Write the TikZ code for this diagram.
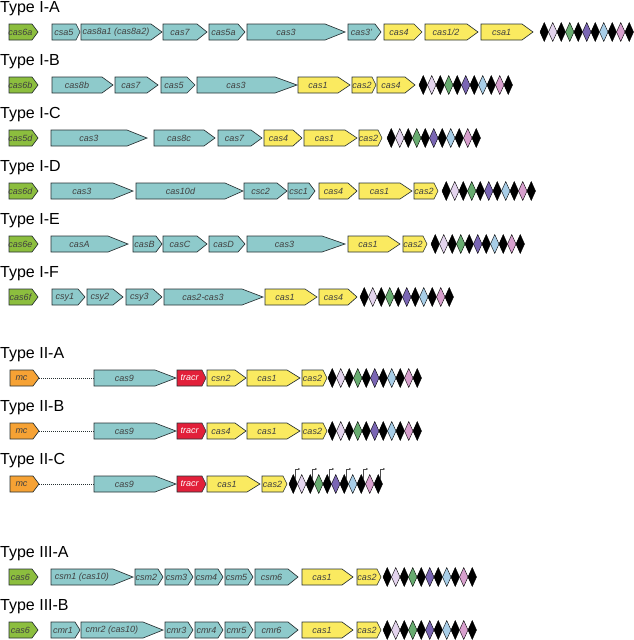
\documentclass[tikz,border=0pt]{standalone}
\usepackage{fontspec}
\setmainfont{Liberation Sans}
\usepackage{tikz}
\usetikzlibrary{arrows.meta}
\usepackage{xcolor}
\definecolor{casteal}{RGB}{142,202,203}
\definecolor{casyellow}{RGB}{250,234,96}
\definecolor{casgreen}{RGB}{140,190,62}
\definecolor{mcorange}{RGB}{246,162,52}
\definecolor{tracrred}{RGB}{226,32,58}
\definecolor{casline}{RGB}{38,48,50}
\definecolor{spacerlav}{RGB}{228,212,238}
\definecolor{spacergreen}{RGB}{104,172,112}
\definecolor{spacerpurple}{RGB}{122,102,180}
\definecolor{spacerblue}{RGB}{168,206,232}
\definecolor{spacerpink}{RGB}{216,160,206}

% gene arrow: name, left x, right x, tip length, fill, label (row at \rowy)
\newcommand{\gene}[6]{%
  \draw[genebox,fill=#5] (#2,\rowy-8) -- (#3-#4,\rowy-8) -- (#3,\rowy)
    -- (#3-#4,\rowy+8) -- (#2,\rowy+8) -- cycle;
  \node[genelabel,minimum width={#3-#4-#2}] (#1) at ({(#2+#3-#4)/2},\rowy) {#6};
  \coordinate (#1tip) at (#3,\rowy);
}
% CRISPR array: repeats and spacers
\newcommand{\spacers}[1]{%
  \foreach \col [count=\i from 0] in {black,spacerlav,black,spacergreen,black,
      spacerpurple,black,spacerblue,black,spacerpink,black}
    \draw[spacer,fill=\col] (#1+\i*8.5,\rowy) -- ++(4.25,-9.5) -- ++(4.25,9.5)
      -- ++(-4.25,9.5) -- cycle;
}
\newcommand{\promoters}[1]{%
  \foreach \k in {0,2,...,10}
    \draw[promoter] (#1+\k*8.5+6,\rowy-5) -- ++(0,-10) -- ++(5,0);
}

\begin{document}
\begin{tikzpicture}[x=1pt,y=-1pt,
  genebox/.style={draw=casline,line width=0.65pt},
  genelabel/.style={inner sep=0pt,minimum height=16pt,
    font=\fontsize{9}{9}\selectfont\itshape,text=black!75},
  typelabel/.style={anchor=base west,inner sep=0pt,
    font=\fontsize{16}{16}\selectfont},
  spacer/.style={draw=black,line width=0.4pt},
  dotline/.style={draw=casline,line width=0.9pt,dash pattern=on 1pt off 1pt},
  promoter/.style={draw=black!70,line width=0.5pt,
    -{Stealth[length=2pt,width=2.2pt]}}]
  \useasboundingbox (0,0) rectangle (634,640);

  % Type I-A
  \def\rowy{32}
  \node[typelabel] (typeIA) at (0,\rowy-20) {Type I-A};
  \gene{IAcas6a}{9}{38}{6}{casgreen}{cas6a}
  \gene{IAcsa5}{52}{80}{4}{casteal}{csa5}
  \gene{IAcas8a}{81}{162}{11}{casteal}{cas8a1 (cas8a2)}
  \gene{IAcas7}{163}{207}{10}{casteal}{cas7}
  \gene{IAcas5a}{209}{245}{7}{casteal}{cas5a}
  \gene{IAcas3}{247}{345}{20}{casteal}{cas3}
  \gene{IAcas3p}{348}{381}{6}{casteal}{cas3'}
  \gene{IAcas4}{384}{422}{8}{casyellow}{cas4}
  \gene{IAcas12}{425}{478}{11}{casyellow}{cas1/2}
  \gene{IAcsa1}{481}{533}{11}{casyellow}{csa1}
  \spacers{540}

  % Type I-B
  \def\rowy{85}
  \node[typelabel] (typeIB) at (0,\rowy-20) {Type I-B};
  \gene{IBcas6b}{9}{38}{6}{casgreen}{cas6b}
  \gene{IBcas8b}{52}{113}{11}{casteal}{cas8b}
  \gene{IBcas7}{115}{158}{11}{casteal}{cas7}
  \gene{IBcas5}{161}{195}{8}{casteal}{cas5}
  \gene{IBcas3}{197}{297}{22}{casteal}{cas3}
  \gene{IBcas1}{298}{350}{12}{casyellow}{cas1}
  \gene{IBcas2}{352}{376}{4}{casyellow}{cas2}
  \gene{IBcas4}{377}{415}{10}{casyellow}{cas4}
  \spacers{419}

  % Type I-C
  \def\rowy{138}
  \node[typelabel] (typeIC) at (0,\rowy-20) {Type I-C};
  \gene{ICcas5d}{9}{38}{6}{casgreen}{cas5d}
  \gene{ICcas3}{51}{147}{20}{casteal}{cas3}
  \gene{ICcas8c}{154}{215}{11}{casteal}{cas8c}
  \gene{ICcas7}{218}{262}{11}{casteal}{cas7}
  \gene{ICcas4}{264}{302}{9}{casyellow}{cas4}
  \gene{ICcas1}{304}{357}{12}{casyellow}{cas1}
  \gene{ICcas2}{359}{382}{4}{casyellow}{cas2}
  \spacers{387}

  % Type I-D
  \def\rowy{191}
  \node[typelabel] (typeID) at (0,\rowy-20) {Type I-D};
  \gene{IDcas6d}{9}{38}{6}{casgreen}{cas6d}
  \gene{IDcas3}{51}{133}{20}{casteal}{cas3}
  \gene{IDcas10d}{136}{243}{18}{casteal}{cas10d}
  \gene{IDcsc2}{244}{287}{10}{casteal}{csc2}
  \gene{IDcsc1}{288}{315}{6}{casteal}{csc1}
  \gene{IDcas4}{319}{357}{9}{casyellow}{cas4}
  \gene{IDcas1}{359}{412}{12}{casyellow}{cas1}
  \gene{IDcas2}{414}{438}{4}{casyellow}{cas2}
  \spacers{442}

  % Type I-E
  \def\rowy{244}
  \node[typelabel] (typeIE) at (0,\rowy-20) {Type I-E};
  \gene{IEcas6e}{9}{38}{6}{casgreen}{cas6e}
  \gene{IEcasA}{51}{128}{20}{casteal}{casA}
  \gene{IEcasB}{133}{162}{6}{casteal}{casB}
  \gene{IEcasC}{163}{207}{10}{casteal}{casC}
  \gene{IEcasD}{209}{245}{7}{casteal}{casD}
  \gene{IEcas3}{247}{345}{23}{casteal}{cas3}
  \gene{IEcas1}{348}{400}{12}{casyellow}{cas1}
  \gene{IEcas2}{403}{427}{4}{casyellow}{cas2}
  \spacers{431}

  % Type I-F
  \def\rowy{297}
  \node[typelabel] (typeIF) at (0,\rowy-20) {Type I-F};
  \gene{IFcas6f}{9}{38}{6}{casgreen}{cas6f}
  \gene{IFcsy1}{52}{85}{7}{casteal}{csy1}
  \gene{IFcsy2}{87}{123}{10}{casteal}{csy2}
  \gene{IFcsy3}{126}{162}{9}{casteal}{csy3}
  \gene{IFcas23}{164}{263}{21}{casteal}{cas2-cas3}
  \gene{IFcas1}{265}{317}{12}{casyellow}{cas1}
  \gene{IFcas4}{319}{357}{9}{casyellow}{cas4}
  \spacers{360}

  % Type II-A
  \def\rowy{378}
  \node[typelabel] (typeIIA) at (0,\rowy-20) {Type II-A};
  \gene{IIAmc}{10}{39}{6}{mcorange}{mc}
  \gene{IIAcas9}{94}{176}{21}{casteal}{cas9}
  \draw[dotline] (IIAmctip) -- (IIAcas9.west);
  \gene{IIAtracr}{177}{206}{4}{tracrred}{\color{white}tracr}
  \gene{IIAcsn2}{207}{246}{11}{casyellow}{csn2}
  \gene{IIAcas1}{247}{300}{13}{casyellow}{cas1}
  \gene{IIAcas2}{302}{327}{4}{casyellow}{cas2}
  \spacers{328}

  % Type II-B
  \def\rowy{431}
  \node[typelabel] (typeIIB) at (0,\rowy-20) {Type II-B};
  \gene{IIBmc}{10}{39}{6}{mcorange}{mc}
  \gene{IIBcas9}{94}{176}{21}{casteal}{cas9}
  \draw[dotline] (IIBmctip) -- (IIBcas9.west);
  \gene{IIBtracr}{177}{206}{4}{tracrred}{\color{white}tracr}
  \gene{IIBcas4}{207}{246}{11}{casyellow}{cas4}
  \gene{IIBcas1}{247}{300}{13}{casyellow}{cas1}
  \gene{IIBcas2}{302}{327}{4}{casyellow}{cas2}
  \spacers{328}

  % Type II-C
  \def\rowy{484}
  \node[typelabel] (typeIIC) at (0,\rowy-20) {Type II-C};
  \gene{IICmc}{10}{39}{6}{mcorange}{mc}
  \gene{IICcas9}{94}{176}{21}{casteal}{cas9}
  \draw[dotline] (IICmctip) -- (IICcas9.west);
  \gene{IICtracr}{177}{206}{4}{tracrred}{\color{white}tracr}
  \gene{IICcas1}{207}{260}{13}{casyellow}{cas1}
  \gene{IICcas2}{262}{287}{4}{casyellow}{cas2}
  \spacers{289}
  \promoters{289}

  % Type III-A
  \def\rowy{577}
  \node[typelabel] (typeIIIA) at (0,\rowy-20) {Type III-A};
  \gene{IIIAcas6}{9}{38}{6}{casgreen}{cas6}
  \gene{IIIAcsm1}{51}{133}{20}{casteal}{csm1 (cas10)}
  \gene{IIIAcsm2}{135}{163}{5}{casteal}{csm2}
  \gene{IIIAcsm3}{165}{193}{5}{casteal}{csm3}
  \gene{IIIAcsm4}{195}{223}{5}{casteal}{csm4}
  \gene{IIIAcsm5}{225}{253}{5}{casteal}{csm5}
  \gene{IIIAcsm6}{255}{298}{10}{casteal}{csm6}
  \gene{IIIAcas1}{302}{353}{11}{casyellow}{cas1}
  \gene{IIIAcas2}{357}{381}{4}{casyellow}{cas2}
  \spacers{383}

  % Type III-B
  \def\rowy{630}
  \node[typelabel] (typeIIIB) at (0,\rowy-20) {Type III-B};
  \gene{IIIBcas6}{9}{38}{6}{casgreen}{cas6}
  \gene{IIIBcmr1}{51}{80}{5}{casteal}{cmr1}
  \gene{IIIBcmr2}{81}{163}{20}{casteal}{cmr2 (cas10)}
  \gene{IIIBcmr3}{165}{193}{5}{casteal}{cmr3}
  \gene{IIIBcmr4}{195}{223}{5}{casteal}{cmr4}
  \gene{IIIBcmr5}{225}{253}{5}{casteal}{cmr5}
  \gene{IIIBcmr6}{255}{298}{10}{casteal}{cmr6}
  \gene{IIIBcas1}{302}{353}{11}{casyellow}{cas1}
  \gene{IIIBcas2}{357}{381}{4}{casyellow}{cas2}
  \spacers{383}
\end{tikzpicture}
\end{document}
